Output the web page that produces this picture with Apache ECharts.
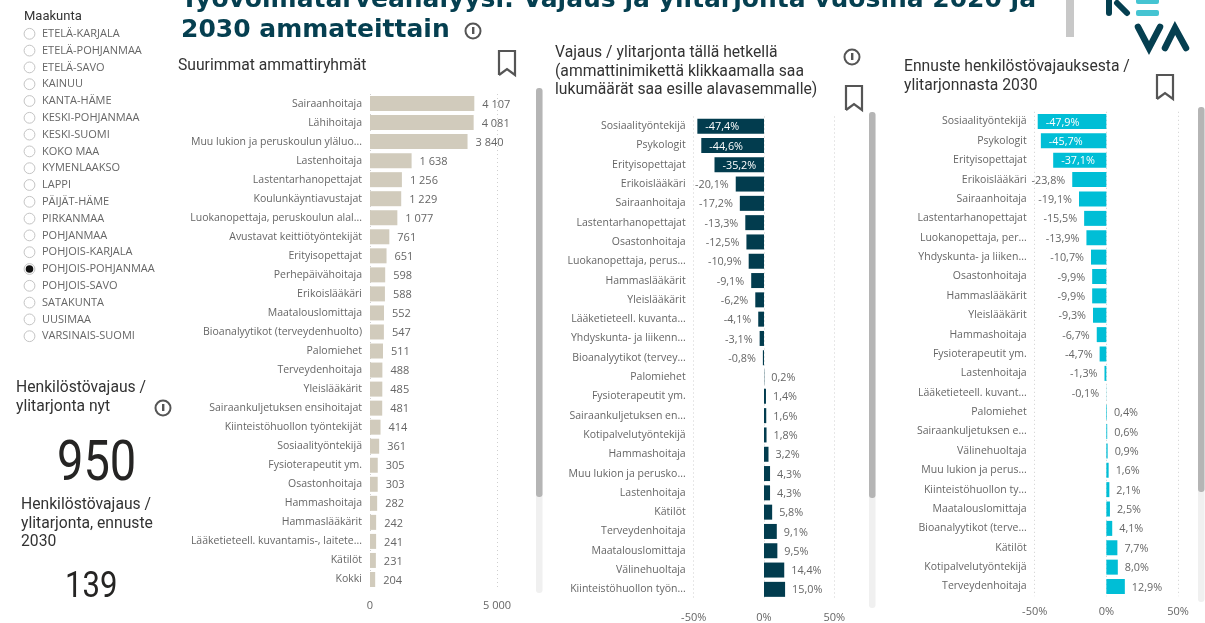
<!DOCTYPE html>
<html>
<head>
<meta charset="utf-8">
<script src="https://cdn.jsdelivr.net/npm/echarts@6/dist/echarts.min.js"></script>
<style>
html, body { margin: 0; padding: 0; background: #fff; overflow: hidden; }
#chart { width: 1205px; height: 623px; }
</style>
</head>
<body>
<div id="chart"></div>
<script>
const maakunnat = ["ETELÄ-KARJALA", "ETELÄ-POHJANMAA", "ETELÄ-SAVO", "KAINUU", "KANTA-HÄME", "KESKI-POHJANMAA", "KESKI-SUOMI", "KOKO MAA", "KYMENLAAKSO", "LAPPI", "PÄIJÄT-HÄME", "PIRKANMAA", "POHJANMAA", "POHJOIS-KARJALA", "POHJOIS-POHJANMAA", "POHJOIS-SAVO", "SATAKUNTA", "UUSIMAA", "VARSINAIS-SUOMI"]
const selectedMaakunta = "POHJOIS-POHJANMAA"

const ammatit = ["Sairaanhoitaja", "Lähihoitaja", "Muu lukion ja peruskoulun yläluo...", "Lastenhoitaja", "Lastentarhanopettajat", "Koulunkäyntiavustajat", "Luokanopettaja, peruskoulun alal...", "Avustavat keittiötyöntekijät", "Erityisopettajat", "Perhepäivähoitaja", "Erikoislääkäri", "Maatalouslomittaja", "Bioanalyytikot (terveydenhuolto)", "Palomiehet", "Terveydenhoitaja", "Yleislääkärit", "Sairaankuljetuksen ensihoitajat", "Kiinteistöhuollon työntekijät", "Sosiaalityöntekijä", "Fysioterapeutit ym.", "Osastonhoitaja", "Hammashoitaja", "Hammaslääkärit", "Lääketieteell. kuvantamis-, laitete...", "Kätilöt", "Kokki"]
const ammatitLkm = [4107, 4081, 3840, 1638, 1256, 1229, 1077, 761, 651, 598, 588, 552, 547, 511, 488, 485, 481, 414, 361, 305, 303, 282, 242, 241, 231, 204]

const vajausNimet = ["Sosiaalityöntekijä", "Psykologit", "Erityisopettajat", "Erikoislääkäri", "Sairaanhoitaja", "Lastentarhanopettajat", "Osastonhoitaja", "Luokanopettaja, perus...", "Hammaslääkärit", "Yleislääkärit", "Lääketieteell. kuvanta...", "Yhdyskunta- ja liikenn...", "Bioanalyytikot (tervey...", "Palomiehet", "Fysioterapeutit ym.", "Sairaankuljetuksen en...", "Kotipalvelutyöntekijä", "Hammashoitaja", "Muu lukion ja perusko...", "Lastenhoitaja", "Kätilöt", "Terveydenhoitaja", "Maatalouslomittaja", "Välinehuoltaja", "Kiinteistöhuollon työn..."]
const vajausNyt = [-47.4, -44.6, -35.2, -20.1, -17.2, -13.3, -12.5, -10.9, -9.1, -6.2, -4.1, -3.1, -0.8, 0.2, 1.4, 1.6, 1.8, 3.2, 4.3, 4.3, 5.8, 9.1, 9.5, 14.4, 15.0]

const ennusteNimet = ["Sosiaalityöntekijä", "Psykologit", "Erityisopettajat", "Erikoislääkäri", "Sairaanhoitaja", "Lastentarhanopettajat", "Luokanopettaja, per...", "Yhdyskunta- ja liiken...", "Osastonhoitaja", "Hammaslääkärit", "Yleislääkärit", "Hammashoitaja", "Fysioterapeutit ym.", "Lastenhoitaja", "Lääketieteell. kuvant...", "Palomiehet", "Sairaankuljetuksen e...", "Välinehuoltaja", "Muu lukion ja perus...", "Kiinteistöhuollon ty...", "Maatalouslomittaja", "Bioanalyytikot (terve...", "Kätilöt", "Kotipalvelutyöntekijä", "Terveydenhoitaja"]
const ennuste2030 = [-47.9, -45.7, -37.1, -23.8, -19.1, -15.5, -13.9, -10.7, -9.9, -9.9, -9.3, -6.7, -4.7, -1.3, -0.1, 0.4, 0.6, 0.9, 1.6, 2.1, 2.5, 4.1, 7.7, 8.0, 12.9]

const LABEL_FONT = '"Open Sans", "Noto Sans", sans-serif'
const HEAD_FONT = 'Roboto, "Noto Sans", sans-serif'
const TEXT_GREY = "#666666"
const DARK = "#333333"
const TEAL = "#053f50"

const fi = (n) => String(n).replace(/\B(?=(\d{3})+$)/g, " ")
const pct = (n) => n.toFixed(1).replace(".", ",") + "%"

function valueAxis(gridIndex, min, max, interval, margin, formatter) {
	return {
		type: "value",
		gridIndex,
		min,
		max,
		interval,
		axisLine: { show: false },
		axisTick: { show: false },
		axisLabel: { color: TEXT_GREY, fontFamily: LABEL_FONT, fontSize: 11, margin, formatter },
		splitLine: { show: true, lineStyle: { color: "#cfcfcf", type: [1, 3], width: 1 } },
	}
}

function categoryAxis(gridIndex, data) {
	return {
		type: "category",
		gridIndex,
		inverse: true,
		data,
		axisLine: { show: false, onZero: false },
		axisTick: { show: false },
		axisLabel: { color: TEXT_GREY, fontFamily: LABEL_FONT, fontSize: 10.5, margin: 8, interval: 0 },
	}
}

// pct bars: the three biggest negatives carry a white label inside the bar
function pctSeries(index, values, color) {
	return {
		type: "bar",
		xAxisIndex: index,
		yAxisIndex: index,
		barWidth: 15,
		itemStyle: { color },
		data: values.map((v, i) => ({
			value: v,
			label: i < 3
				? { position: "insideLeft", distance: 8, color: "#ffffff" }
				: { position: v < 0 ? "left" : "right", distance: 7, color: TEXT_GREY },
		})),
		label: {
			show: true,
			fontFamily: LABEL_FONT,
			fontSize: 10.8,
			offset: [0, 1],
			formatter: (p) => pct(p.value),
		},
	}
}

function text(x, y, str, style) {
	return {
		type: "text",
		x,
		y,
		style: Object.assign({ text: str, fontFamily: HEAD_FONT, fontSize: 15.7, fill: DARK, lineHeight: 18.5 }, style),
	}
}

// the big numbers are a narrow face in the source, so squeeze Roboto a bit
function kpi(x, y, str, fontSize) {
	return Object.assign(text(x, y, str, { fontSize, lineHeight: fontSize, fill: "#252423" }), { scaleX: 0.84 })
}

function infoIcon(x, y) {
	return {
		type: "group",
		x,
		y,
		children: [
			{ type: "circle", shape: { r: 7.5 }, style: { fill: "none", stroke: "#555555", lineWidth: 2 } },
			{ type: "rect", shape: { x: -1, y: -4, width: 2.4, height: 7 }, style: { fill: "#555555" } },
		],
	}
}

function bookmark(x, y) {
	return {
		type: "polyline",
		shape: { points: [[x, y + 24], [x, y], [x + 16, y], [x + 16, y + 24], [x + 8, y + 18], [x, y + 24]] },
		style: { fill: "none", stroke: "#555555", lineWidth: 2.2 },
	}
}

function scrollbar(x, top, thumbBottom, trackBottom) {
	return [
		{ type: "rect", shape: { x, y: top, width: 6.5, height: trackBottom - top, r: 3 }, style: { fill: "#f0f0f0" } },
		{ type: "rect", shape: { x, y: top, width: 6.5, height: thumbBottom - top, r: 3 }, style: { fill: "#b5b5b5" } },
	]
}

function logoStroke(points, lineWidth) {
	return { type: "polyline", shape: { points }, style: { stroke: TEAL, lineWidth, lineCap: "round", lineJoin: "miter", fill: "none" } }
}

const radios = []
maakunnat.forEach((name, i) => {
	const y = 33.8 + i * 16.8
	radios.push({ type: "circle", shape: { cx: 29.5, cy: y, r: 5.4 }, style: { fill: "#fff", stroke: "#c4c4c4", lineWidth: 1 } })
	if (name === selectedMaakunta) {
		radios.push({ type: "circle", shape: { cx: 29.5, cy: y, r: 3.8 }, style: { fill: "#111111" } })
	}
	radios.push(text(42, y - 7, name, { fontFamily: LABEL_FONT, fontSize: 11, fill: TEXT_GREY, lineHeight: 14 }))
})

const myChart = echarts.init(document.getElementById("chart"), null, { renderer: "canvas" })

const option = {
	animation: false,
	backgroundColor: "#ffffff",
	grid: [
		{ left: 370, width: 127, top: 94, height: 495 },
		{ left: 693.7, width: 140.6, top: 116.5, height: 489 },
		{ left: 1034.7, width: 143.3, top: 111.8, height: 484.4 },
	],
	xAxis: [
		valueAxis(0, 0, 5000, 5000, 11, (v) => fi(v)),
		valueAxis(1, -50, 50, 50, 13, (v) => v + "%"),
		valueAxis(2, -50, 50, 50, 10, (v) => v + "%"),
	],
	yAxis: [categoryAxis(0, ammatit), categoryAxis(1, vajausNimet), categoryAxis(2, ennusteNimet)],
	series: [
		{
			type: "bar",
			xAxisIndex: 0,
			yAxisIndex: 0,
			barWidth: 15,
			itemStyle: { color: "#d1cbbc" },
			data: ammatitLkm,
			label: {
				show: true,
				position: "right",
				distance: 8,
				offset: [0, 1],
				color: TEXT_GREY,
				fontFamily: LABEL_FONT,
				fontSize: 11,
				formatter: (p) => fi(p.value),
			},
		},
		pctSeries(1, vajausNyt, "#023c4e"),
		pctSeries(2, ennuste2030, "#00bed6"),
	],
	graphic: {
		elements: [
			// page title, its first line runs off the top as in the source
			text(181, -15, "Työvoimatarveanalyysi: Vajaus ja ylitarjonta vuosina 2020 ja\n2030 ammateittain", {
				fontFamily: '"DejaVu Sans", sans-serif',
				fontWeight: "bold",
				fontSize: 25,
				lineHeight: 30,
				fill: TEAL,
			}),
			infoIcon(473, 31),
			text(24, 7, "Maakunta", { fontSize: 13 }),
			...radios,
			text(178, 57, "Suurimmat ammattiryhmät"),
			bookmark(499, 51),
			text(555, 44, "Vajaus / ylitarjonta tällä hetkellä\n(ammattinimikettä klikkaamalla saa\nlukumäärät saa esille alavasemmalle)"),
			infoIcon(852, 57),
			bookmark(846, 86),
			text(904, 58, "Ennuste henkilöstövajauksesta /\nylitarjonnasta 2030"),
			bookmark(1157, 75),
			text(16, 379, "Henkilöstövajaus /\nylitarjonta nyt"),
			infoIcon(163, 408),
			kpi(57, 438, "950", 56),
			text(21, 496, "Henkilöstövajaus /\nylitarjonta, ennuste\n2030"),
			kpi(65, 569, "139", 37),
			...scrollbar(536, 88, 497, 593),
			...scrollbar(869, 112, 498, 608),
			...scrollbar(1198, 107, 492, 602),
			// divider and logo
			{ type: "rect", shape: { x: 1066, y: 0, width: 8, height: 37 }, style: { fill: "#c8c8c8" } },
			logoStroke([[1109, -2], [1109, 13]], 6),
			logoStroke([[1117, 3], [1127, 13]], 6),
			{ type: "rect", shape: { x: 1136, y: -2, width: 23, height: 6, r: 2 }, style: { fill: "#45c4d2" } },
			{ type: "rect", shape: { x: 1136, y: 10, width: 23, height: 6, r: 2 }, style: { fill: "#45c4d2" } },
			logoStroke([[1138, 27], [1149, 48], [1160, 27]], 6.5),
			logoStroke([[1165, 48], [1175, 28], [1186, 48]], 6.5),
		],
	},
}

myChart.setOption(option)
</script>
</body>
</html>
